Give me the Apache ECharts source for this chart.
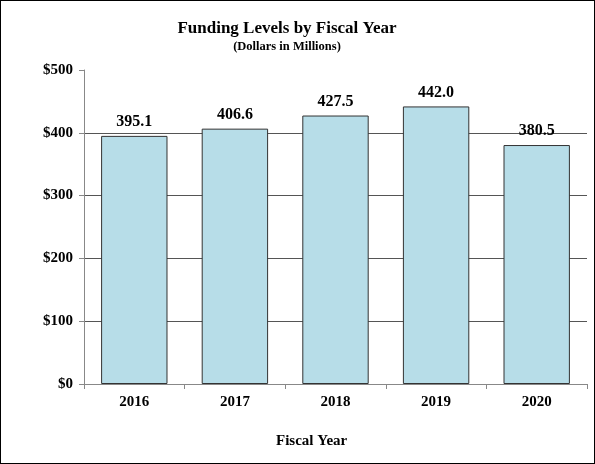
<!DOCTYPE html>
<html><head><meta charset="utf-8">
<script src="https://cdn.jsdelivr.net/npm/echarts@6/dist/echarts.min.js"></script>
<style>
html,body{margin:0;padding:0;background:#fff;}
#c{position:absolute;left:0;top:0;width:593px;height:462px;border:1px solid #000;}
</style></head><body>
<div id="c"></div>
<script>
const categories = ['2016','2017','2018','2019','2020'];
const values = [395.1, 406.6, 427.5, 442.0, 380.5];
const yTicks = [0, 100, 200, 300, 400, 500];
const font = '"Liberation Serif","Times New Roman",serif';
const chart = echarts.init(document.getElementById('c'));
chart.setOption({
  animation: false,
  title: {
    text: 'Funding Levels by Fiscal Year',
    subtext: '(Dollars in Millions)',
    left: 281, textAlign: 'center', top: 14,
    itemGap: 3,
    textStyle: {fontFamily: font, fontWeight: 'bold', fontSize: 17, color: '#000'},
    subtextStyle: {fontFamily: font, fontWeight: 'bold', fontSize: 12.5, color: '#000'}
  },
  graphic: [{
    type: 'text', left: 275, top: 433,
    style: {text: 'Fiscal Year', fontFamily: font, fontWeight: 'bold', fontSize: 15, fill: '#000'}
  }],
  grid: {left: 83, right: 7, top: 69, bottom: 79},
  xAxis: {
    type: 'category', data: categories,
    axisLine: {lineStyle: {color: '#888', width: 1}},
    axisTick: {show: true, length: 5, lineStyle: {color: '#888'}},
    axisLabel: {fontFamily: font, fontWeight: 'bold', fontSize: 15, color: '#000', margin: 11}
  },
  yAxis: {
    type: 'value', min: yTicks[0], max: yTicks[yTicks.length-1], interval: 100,
    axisLine: {show: true, lineStyle: {color: '#888', width: 1}},
    axisTick: {show: true, length: 5, lineStyle: {color: '#888'}},
    splitLine: {showMaxLine: false, lineStyle: {color: ['#555','#555','#555','#555','#555','transparent'], width: 1}},
    axisLabel: {fontFamily: font, fontWeight: 'bold', fontSize: 15, color: '#000', margin: 11,
      formatter: v => '$' + v}
  },
  series: [{
    type: 'bar', data: values, barCategoryGap: '34%',
    itemStyle: {color: '#b7dde8', borderColor: '#333', borderWidth: 1},
    label: {show: true, position: 'top', distance: 6,
      fontFamily: font, fontWeight: 'bold', fontSize: 16, color: '#000',
      formatter: p => p.value.toFixed(1)}
  }]
});
</script>
</body></html>
